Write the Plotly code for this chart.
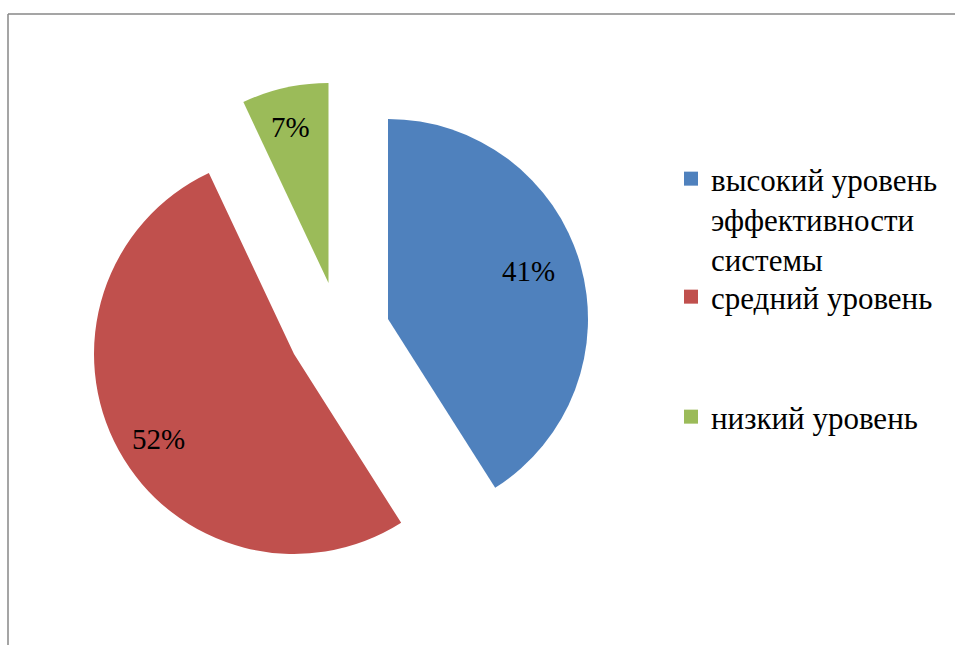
import plotly.graph_objects as go

# ---- data ----
labels = ["высокий уровень эффективности системы", "средний уровень", "низкий уровень"]
legend_text = ["высокий уровень<br>эффективности<br>системы", "средний уровень", "низкий уровень"]
values = [41, 52, 7]
colors = ["#4F81BD", "#C0504D", "#9BBB59"]

# ---- layout (pixels in the 955x645 canvas) ----
W, H = 955, 645
R = 200
# exploded slice apex positions (Excel-style individual explosion)
apex = [(388, 319), (294, 354), (328.5, 283)]
label_pos = [(528, 271), (158, 439), (290, 127)]
legend_pos = [(671, 152), (671, 270), (671, 390)]
FONT = "'Times New Roman', 'Liberation Serif', serif"

fig = go.Figure()

for k, (ax, ay) in enumerate(apex):
    slice_colors = [c if i == k else "rgba(0,0,0,0)" for i, c in enumerate(colors)]
    fig.add_trace(go.Pie(
        labels=labels,
        values=values,
        sort=False,
        direction="clockwise",
        rotation=0,
        marker=dict(colors=slice_colors, line=dict(width=0)),
        textinfo="none",
        hoverinfo="skip",
        showlegend=False,
        domain=dict(x=[(ax - R) / W, (ax + R) / W],
                    y=[1 - (ay + R) / H, 1 - (ay - R) / H]),
    ))

legend_names = ["legend", "legend2", "legend3"]
for k in range(len(labels)):
    fig.add_trace(go.Scatter(
        x=[None], y=[None], mode="markers",
        marker=dict(symbol="square", size=14, color=colors[k]),
        name=legend_text[k], legend=legend_names[k], showlegend=True,
    ))

legend_common = dict(font=dict(family=FONT, size=31, color="black"),
                     bgcolor="rgba(0,0,0,0)", borderwidth=0,
                     xanchor="left", yanchor="top", valign="top",
                     itemwidth=30, tracegroupgap=0)
lay_legends = {}
for k, name in enumerate(legend_names):
    lx, ly = legend_pos[k]
    lay_legends[name] = dict(x=lx / W, y=1 - ly / H, **legend_common)

annotations = []
for k, (tx, ty) in enumerate(label_pos):
    annotations.append(dict(
        x=tx / W, y=1 - ty / H, xref="paper", yref="paper",
        text=f"{values[k]}%", showarrow=False,
        font=dict(family=FONT, size=29, color="black"),
        xanchor="center", yanchor="middle",
    ))

fig.update_layout(
    width=W, height=H,
    margin=dict(l=0, r=0, t=0, b=0),
    paper_bgcolor="white", plot_bgcolor="white",
    xaxis=dict(visible=False), yaxis=dict(visible=False),
    showlegend=True,
    annotations=annotations,
    shapes=[
        dict(type="line", xref="paper", yref="paper", x0=8 / W, x1=1.01, y0=1 - 14 / H, y1=1 - 14 / H,
             line=dict(color="#878787", width=1.5)),
        dict(type="line", xref="paper", yref="paper", x0=8 / W, x1=8 / W, y0=1 - 14 / H, y1=-0.01,
             line=dict(color="#878787", width=1.5)),
    ],
    **lay_legends,
)

fig.write_html("out.html", config={"displayModeBar": False},
               post_script="document.body.style.margin='0';document.body.style.overflow='hidden';")
